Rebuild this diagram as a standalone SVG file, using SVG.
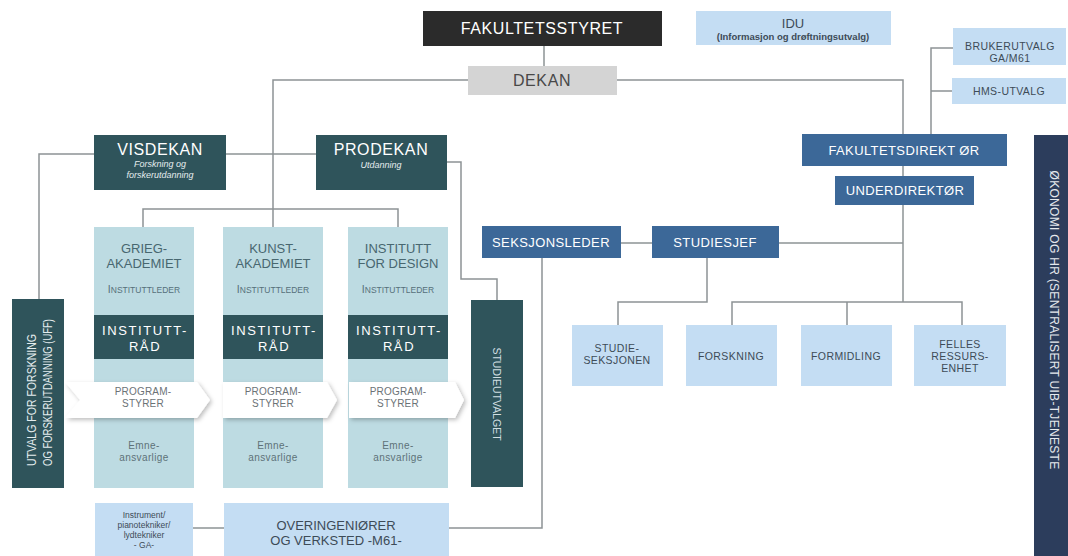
<svg xmlns="http://www.w3.org/2000/svg" width="1068" height="556" viewBox="0 0 1068 556">
<defs>
<style>
text{font-family:"Liberation Sans",Arial,sans-serif;text-anchor:middle}
.con{fill:none;stroke:#8d9395;stroke-width:1.5}
.teal{fill:#2f545b}
.col{fill:#bddbe2}
.lb{fill:#c4ddf3}
.mb{fill:#3c6898}
.w{fill:#ffffff}
.t-lb{fill:#3d4b57;font-size:10.5px;letter-spacing:0.4px}
.t-mb{fill:#ffffff;font-size:13px;letter-spacing:0.4px}
.t-col{fill:#486770;font-size:13px}
.t-il{fill:#56707a}
.t-ir{fill:#ffffff;font-size:13px;letter-spacing:1.6px}
.t-ps{fill:#6b7276;font-size:10px;letter-spacing:0.2px}
.t-em{fill:#5e7278;font-size:10px;letter-spacing:0.4px}
</style>
<filter id="sh" x="-10%" y="-20%" width="130%" height="160%">
<feDropShadow dx="2" dy="2" stdDeviation="2" flood-color="#000" flood-opacity="0.25"/>
</filter>
</defs>
<rect width="1068" height="556" fill="#ffffff"/>

<g id="connectors">
<path class="con" d="M544 46V66"/>
<path class="con" d="M468 80H273V227"/>
<path class="con" d="M143 227V209H398V227"/>
<path class="con" d="M617 80H903V134"/>
<path class="con" d="M903 166V176"/>
<path class="con" d="M903 205V302"/>
<path class="con" d="M779 243H903"/>
<path class="con" d="M732 325V302H962V325M847 302V325"/>
<path class="con" d="M707 258V302H618V325"/>
<path class="con" d="M621 243H652"/>
<path class="con" d="M542 258V528H449"/>
<path class="con" d="M193 528H224"/>
<path class="con" d="M226 154H316"/>
<path class="con" d="M94 154H39V299"/>
<path class="con" d="M447 162H461V279H497V300"/>
<path class="con" d="M931 134V48H953M931 91H953"/>
</g>

<g id="fakultetsstyret">
<rect x="423" y="11" width="239" height="35" fill="#2b2b2b"/>
<text x="542" y="34" fill="#ffffff" font-size="16" letter-spacing="0.6">FAKULTETSSTYRET</text>
</g>
<g id="dekan">
<rect x="468" y="66" width="149" height="29" fill="#d4d4d4"/>
<text x="542" y="86" fill="#484848" font-size="16" letter-spacing="0.6">DEKAN</text>
</g>
<g id="idu">
<rect class="lb" x="696" y="11" width="195" height="34"/>
<text x="793" y="28" fill="#3d4b57" font-size="13">IDU</text>
<text x="793" y="40" fill="#3d4b57" font-size="9.5" font-weight="bold">(Informasjon og drøftningsutvalg)</text>
</g>
<g id="brukerutvalg">
<rect class="lb" x="953" y="28" width="113" height="37"/>
<text class="t-lb" x="1010" y="50">BRUKERUTVALG</text>
<text class="t-lb" x="1010" y="62">GA/M61</text>
</g>
<g id="hms">
<rect class="lb" x="952" y="78" width="114" height="26"/>
<text class="t-lb" x="1009" y="95">HMS-UTVALG</text>
</g>
<g id="fakultetsdirektor">
<rect class="mb" x="802" y="134" width="205" height="32"/>
<text class="t-mb" x="904" y="155">FAKULTETSDIREKT ØR</text>
</g>
<g id="underdirektor">
<rect class="mb" x="835" y="176" width="139" height="29"/>
<text class="t-mb" x="905" y="195">UNDERDIREKTØR</text>
</g>
<g id="seksjonsleder">
<rect class="mb" x="482" y="226" width="139" height="32"/>
<text class="t-mb" x="551" y="247">SEKSJONSLEDER</text>
</g>
<g id="studiesjef">
<rect class="mb" x="652" y="226" width="127" height="32"/>
<text class="t-mb" x="715" y="247">STUDIESJEF</text>
</g>
<g id="studieseksjonen">
<rect class="lb" x="572" y="325" width="91" height="61"/>
<text class="t-lb" x="617" y="352">STUDIE-</text>
<text class="t-lb" x="617" y="364">SEKSJONEN</text>
</g>
<g id="forskning">
<rect class="lb" x="686" y="325" width="91" height="61"/>
<text class="t-lb" x="731" y="360">FORSKNING</text>
</g>
<g id="formidling">
<rect class="lb" x="801" y="325" width="91" height="61"/>
<text class="t-lb" x="846" y="360">FORMIDLING</text>
</g>
<g id="felles">
<rect class="lb" x="914" y="325" width="92" height="61"/>
<text class="t-lb" x="960" y="348">FELLES</text>
<text class="t-lb" x="960" y="360">RESSURS-</text>
<text class="t-lb" x="960" y="372">ENHET</text>
</g>
<g id="okonomi">
<rect x="1034" y="135" width="34" height="421" fill="#2c3d5c"/>
<text transform="translate(1050 320) rotate(90)" x="0" y="0" fill="#e6e9ee" font-size="12" letter-spacing="0.3">ØKONOMI OG HR (SENTRALISERT UIB-TJENESTE</text>
</g>

<g id="visdekan">
<rect class="teal" x="94" y="135" width="132" height="55"/>
<text x="160" y="155" fill="#ffffff" font-size="16" letter-spacing="0.6">VISDEKAN</text>
<text x="160" y="167" fill="#e4ecee" font-size="9" font-style="italic">Forskning og</text>
<text x="160" y="178" fill="#e4ecee" font-size="9" font-style="italic">forskerutdanning</text>
</g>
<g id="prodekan">
<rect class="teal" x="316" y="135" width="131" height="55"/>
<text x="381" y="155" fill="#ffffff" font-size="16" letter-spacing="0.6">PRODEKAN</text>
<text x="381" y="168" fill="#e4ecee" font-size="9" font-style="italic">Utdanning</text>
</g>

<g id="uff">
<rect class="teal" x="12" y="299" width="52" height="189"/>
<text transform="translate(36 466) rotate(-90)" x="0" y="0" fill="#e4ecee" font-size="12" style="text-anchor:start" textLength="132" lengthAdjust="spacingAndGlyphs">UTVALG FOR FORSKNING</text>
<text transform="translate(52 466) rotate(-90)" x="0" y="0" fill="#e4ecee" font-size="12" style="text-anchor:start" textLength="147" lengthAdjust="spacingAndGlyphs">OG FORSKERUTDANNING (UFF)</text>
</g>
<g id="studieutvalget">
<rect class="teal" x="471" y="300" width="52" height="187"/>
<text transform="translate(493 394) rotate(90)" x="0" y="0" fill="#d2dfe2" font-size="10.5">STUDIEUTVALGET</text>
</g>

<g id="grieg">
<rect class="col" x="94" y="227" width="100" height="261"/>
<text class="t-col" x="144" y="253">GRIEG-</text>
<text class="t-col" x="144" y="268">AKADEMIET</text>
<text class="t-il" x="144" y="293" font-size="8.5"><tspan font-size="10.5">I</tspan>NSTITUTTLEDER</text>
<rect class="teal" x="94" y="315" width="100" height="44"/>
<text class="t-ir" x="145" y="335">INSTITUTT-</text>
<text class="t-ir" x="145" y="351">RÅD</text>
</g>
<g id="kunst">
<rect class="col" x="223" y="227" width="100" height="261"/>
<text class="t-col" x="273" y="253">KUNST-</text>
<text class="t-col" x="273" y="268">AKADEMIET</text>
<text class="t-il" x="273" y="293" font-size="8.5"><tspan font-size="10.5">I</tspan>NSTITUTTLEDER</text>
<rect class="teal" x="223" y="315" width="100" height="44"/>
<text class="t-ir" x="274" y="335">INSTITUTT-</text>
<text class="t-ir" x="274" y="351">RÅD</text>
</g>
<g id="design">
<rect class="col" x="348" y="227" width="100" height="261"/>
<text class="t-col" x="398" y="253">INSTITUTT</text>
<text class="t-col" x="398" y="268">FOR DESIGN</text>
<text class="t-il" x="398" y="293" font-size="8.5"><tspan font-size="10.5">I</tspan>NSTITUTTLEDER</text>
<rect class="teal" x="348" y="315" width="100" height="44"/>
<text class="t-ir" x="399" y="335">INSTITUTT-</text>
<text class="t-ir" x="399" y="351">RÅD</text>
</g>

<g id="programstyrer-1">
<path class="w" filter="url(#sh)" d="M65 382H197L210 400L197 418H65L80 400Z"/>
<text class="t-ps" x="143" y="395">PROGRAM-</text>
<text class="t-ps" x="143" y="407">STYRER</text>
</g>
<g id="programstyrer-2">
<path class="w" filter="url(#sh)" d="M223 382H327L337 400L327 418H223Z"/>
<text class="t-ps" x="273" y="395">PROGRAM-</text>
<text class="t-ps" x="273" y="407">STYRER</text>
</g>
<g id="programstyrer-3">
<path class="w" filter="url(#sh)" d="M349 382H455L464 400L455 418H349Z"/>
<text class="t-ps" x="398" y="395">PROGRAM-</text>
<text class="t-ps" x="398" y="407">STYRER</text>
</g>

<g id="emne">
<text class="t-em" x="144" y="449">Emne-</text>
<text class="t-em" x="144" y="461">ansvarlige</text>
<text class="t-em" x="273" y="449">Emne-</text>
<text class="t-em" x="273" y="461">ansvarlige</text>
<text class="t-em" x="398" y="449">Emne-</text>
<text class="t-em" x="398" y="461">ansvarlige</text>
</g>

<g id="instrument">
<rect class="lb" x="95" y="503" width="98" height="53"/>
<text x="144" y="518" fill="#3d4b57" font-size="8.5">Instrument/</text>
<text x="144" y="528" fill="#3d4b57" font-size="8.5">pianotekniker/</text>
<text x="144" y="538" fill="#3d4b57" font-size="8.5">lydtekniker</text>
<text x="144" y="548" fill="#3d4b57" font-size="8.5">- GA-</text>
</g>
<g id="overingeniorer">
<rect class="lb" x="224" y="503" width="225" height="53"/>
<text x="336" y="530" fill="#3d4b57" font-size="13">OVERINGENIØRER</text>
<text x="336" y="545" fill="#3d4b57" font-size="13">OG VERKSTED -M61-</text>
</g>
</svg>
